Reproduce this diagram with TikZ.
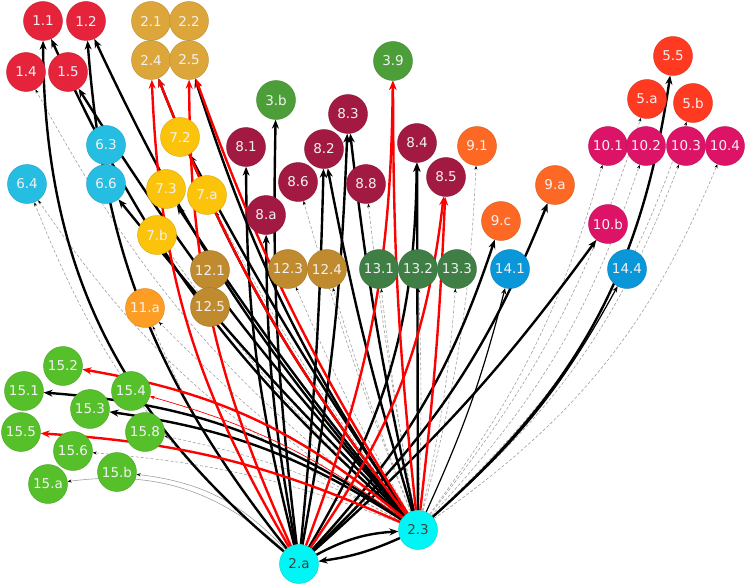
\documentclass[tikz,border=0pt]{standalone}
\usepackage{fontspec}
\setmainfont{DejaVu Sans}
\usetikzlibrary{arrows.meta}
\pgfdeclarelayer{edges}
\pgfsetlayers{edges,main}
\definecolor{sdgone}{HTML}{E5243B}
\definecolor{sdgtwo}{HTML}{DDA63A}
\definecolor{sdgthree}{HTML}{4C9F38}
\definecolor{sdgfive}{HTML}{FF3A21}
\definecolor{sdgsix}{HTML}{26BDE2}
\definecolor{sdgseven}{HTML}{FCC30B}
\definecolor{sdgeight}{HTML}{A21942}
\definecolor{sdgnine}{HTML}{FD6925}
\definecolor{sdgten}{HTML}{DD1367}
\definecolor{sdgeleven}{HTML}{FD9D24}
\definecolor{sdgtwelve}{HTML}{BF8B2E}
\definecolor{sdgthirteen}{HTML}{3F7E44}
\definecolor{sdgfourteen}{HTML}{0A97D9}
\definecolor{sdgfifteen}{HTML}{56C02B}
\definecolor{srccyan}{HTML}{00F5F5}
\definecolor{dashgray}{HTML}{A0A0A0}
\definecolor{arrred}{HTML}{FF0000}
\tikzset{
  sdg/.style={circle, minimum size=39pt, inner sep=0pt, text=white!95!black,
    font=\fontsize{13.5}{13.5}\selectfont, line width=0.4pt},
  gA/.style={sdg, fill=sdgone, draw=sdgone!85!black},
  gB/.style={sdg, fill=sdgtwo, draw=sdgtwo!85!black},
  gC/.style={sdg, fill=sdgthree, draw=sdgthree!85!black},
  gE/.style={sdg, fill=sdgfive, draw=sdgfive!85!black},
  gF/.style={sdg, fill=sdgsix, draw=sdgsix!85!black},
  gG/.style={sdg, fill=sdgseven, draw=sdgseven!85!black},
  gH/.style={sdg, fill=sdgeight, draw=sdgeight!85!black},
  gI/.style={sdg, fill=sdgnine, draw=sdgnine!85!black},
  gJ/.style={sdg, fill=sdgten, draw=sdgten!85!black},
  gK/.style={sdg, fill=sdgeleven, draw=sdgeleven!85!black},
  gL/.style={sdg, fill=sdgtwelve, draw=sdgtwelve!85!black},
  gM/.style={sdg, fill=sdgthirteen, draw=sdgthirteen!85!black},
  gN/.style={sdg, fill=sdgfourteen, draw=sdgfourteen!85!black},
  gO/.style={sdg, fill=sdgfifteen, draw=sdgfifteen!85!black},
  src/.style={sdg, fill=srccyan, draw=srccyan!85!black, text=black!75},
  bk/.style={draw=black, line width=2.4pt, -{Stealth[length=9pt,width=7pt]}},
  rd/.style={draw=arrred, line width=2.4pt, -{Stealth[length=9pt,width=7pt]}},
  rdthin/.style={draw=arrred, line width=0.7pt, -{Stealth[length=5pt,width=4pt]}},
  bkthin/.style={draw=black, line width=1.2pt, -{Stealth[length=6pt,width=5pt]}},
  dsh/.style={draw=dashgray, line width=0.6pt, dash pattern=on 3pt off 2pt,
    -{Stealth[length=4pt,width=3pt,black]}},
  gthin/.style={draw=dashgray, line width=0.6pt, -{Stealth[length=4pt,width=3pt,black]}},
}
\begin{document}
\begin{tikzpicture}[x=1pt,y=-1pt]
\useasboundingbox (0,0) rectangle (746,586);
% goal 1
\node[gA] (n11) at (43,21) {1.1};
\node[gA] (n12) at (86,21) {1.2};
\node[gA] (n14) at (26,72) {1.4};
\node[gA] (n15) at (68,72) {1.5};
% goal 2
\node[gB] (n21) at (151,21) {2.1};
\node[gB] (n22) at (189,21) {2.2};
\node[gB] (n24) at (151,60) {2.4};
\node[gB] (n25) at (189,60) {2.5};
% goal 3
\node[gC] (n3b) at (276,100) {3.b};
\node[gC] (n39) at (393,61) {3.9};
% goal 5
\node[gE] (n55) at (673,56) {5.5};
\node[gE] (n5a) at (647,99) {5.a};
\node[gE] (n5b) at (693,103) {5.b};
% goal 6
\node[gF] (n63) at (106,145) {6.3};
\node[gF] (n66) at (106,184) {6.6};
\node[gF] (n64) at (27,184) {6.4};
% goal 7
\node[gG] (n72) at (180,137) {7.2};
\node[gG] (n73) at (166,189) {7.3};
\node[gG] (n7a) at (207,195) {7.a};
\node[gG] (n7b) at (157,235) {7.b};
% goal 8
\node[gH] (n81) at (246,147) {8.1};
\node[gH] (n8a) at (266,215) {8.a};
\node[gH] (n86) at (298,182) {8.6};
\node[gH] (n82) at (324,149) {8.2};
\node[gH] (n83) at (348,114) {8.3};
\node[gH] (n88) at (366,184) {8.8};
\node[gH] (n84) at (417,143) {8.4};
\node[gH] (n85) at (446,177) {8.5};
% goal 9
\node[gI] (n91) at (477,146) {9.1};
\node[gI] (n9a) at (555,185) {9.a};
\node[gI] (n9c) at (501,221) {9.c};
% goal 10
\node[gJ] (n101) at (608,146) {10.1};
\node[gJ] (n102) at (646,146) {10.2};
\node[gJ] (n103) at (686,146) {10.3};
\node[gJ] (n104) at (725,146) {10.4};
\node[gJ] (n10b) at (608,224) {10.b};
% goal 11
\node[gK] (n11a) at (145,308) {11.a};
% goal 12
\node[gL] (n121) at (210,270) {12.1};
\node[gL] (n125) at (210,307) {12.5};
\node[gL] (n123) at (288,269) {12.3};
\node[gL] (n124) at (327,269) {12.4};
% goal 13
\node[gM] (n131) at (379,269) {13.1};
\node[gM] (n132) at (418,269) {13.2};
\node[gM] (n133) at (457,269) {13.3};
% goal 14
\node[gN] (n141) at (510,269) {14.1};
\node[gN] (n144) at (627,269) {14.4};
% goal 15
\node[gO] (n152) at (63,366) {15.2};
\node[gO] (n151) at (24,391) {15.1};
\node[gO] (n154) at (131,391) {15.4};
\node[gO] (n153) at (90,409) {15.3};
\node[gO] (n155) at (21,432) {15.5};
\node[gO] (n158) at (145,432) {15.8};
\node[gO] (n156) at (73,451) {15.6};
\node[gO] (n15b) at (117,472) {15.b};
\node[gO] (n15a) at (48,484) {15.a};
% sources
\node[src] (n23) at (418,530) {2.3};
\node[src] (n2a) at (299,564) {2.a};

\begin{pgfonlayer}{edges}
% dashed links
\draw[dsh] (n23) to[bend left=12] (n14);
\draw[dsh] (n23) to[bend left=14] (n64);
\draw[dsh] (n2a) to[bend left=14] (n64);
\draw[dsh] (n23) to[bend left=6] (n11a);
\draw[dsh] (n2a) to[bend left=8] (n11a);
\draw[dsh] (n23) to[bend left=4] (n7a);
\draw[dsh] (n23) to[bend left=6] (n7b);
\draw[dsh] (n23) to[bend left=3] (n86);
\draw[dsh] (n23) to[bend left=2] (n88);
\draw[dsh] (n23) to[bend left=3] (n123);
\draw[dsh] (n23) to[bend left=2] (n124);
\draw[dsh] (n23) to[bend left=2] (n131);
\draw[dsh] (n23) to[bend right=2] (n132);
\draw[dsh] (n23) to[bend right=4] (n133);
\draw[dsh] (n23) to[bend right=6] (n91);
\draw[dsh] (n23) to[bend right=10] (n101);
\draw[dsh] (n23) to[bend right=12] (n102);
\draw[dsh] (n23) to[bend right=14] (n103);
\draw[dsh] (n23) to[bend right=16] (n104);
\draw[dsh] (n23) to[bend right=10] (n5a);
\draw[dsh] (n23) to[bend right=14] (n5b);
\draw[dsh] (n23) to[bend right=8] (n156);
\draw[dsh] (n23) to[bend right=8] (n158);
% thin grey
\draw[gthin] (n2a) to[bend right=25] (n15a);
\draw[gthin] (n2a) to[bend right=20] (n15b);
% black links from 2.a
\draw[bk] (n2a) to[bend left=25] (n11);
\draw[bk] (n2a) to[bend left=17] (n12);
\draw[bk] (n2a) to[bend left=4] (n3b);
\draw[bk] (n2a) to[bend left=7] (n81);
\draw[bk] (n2a) to[bend left=5] (n8a);
\draw[bk] (n2a) to[bend right=2] (n82);
\draw[bk] (n2a) to[bend right=4] (n83);
\draw[bk] (n2a) to[bend right=15] (n84);
\draw[bk] (n2a) to[bend right=12] (n9c);
\draw[bk] (n2a) to[bend right=12] (n9a);
\draw[bk] (n2a) to[bend right=6] (n10b);
\draw[bk] (n2a) to[bend left=12] (n23);
% black links from 2.3
\draw[bk] (n23) to[bend left=12] (n11);
\draw[bk] (n23) to[bend left=5] (n15);
\draw[bk] (n23) to[bend left=8] (n12);
\draw[bk] (n23) to[bend left=3] (n66);
\draw[bk] (n23) to[bend left=3] (n73);
\draw[bk] (n23) to[bend left=3] (n72);
\draw[bk] (n23) to[bend left=8] (n24);
\draw[bk] (n23) to[bend left=8] (n25);
\draw[bk] (n23) to[bend left=3] (n82);
\draw[bk] (n23) to[bend left=3] (n83);
\draw[bk] (n23) to[bend left=0] (n84);
\draw[bk] (n23) to[bend right=20] (n55);
\draw[bk] (n23) to[bend right=15] (n151);
\draw[bk] (n23) to[bend right=12] (n153);
\draw[bk] (n23) to[bend left=8] (n2a);
\draw[bkthin] (n23) to[bend right=10] (n144);
\draw[bkthin] (n23) to[bend right=5] (n141);
% red links
\draw[rd] (n2a) to[bend left=14] (n24);
\draw[rd] (n2a) to[bend left=12] (n25);
\draw[rd] (n2a) to[bend right=10] (n39);
\draw[rd] (n2a) to[bend right=14] (n85);
\draw[rd] (n23) to[bend left=8] (n24);
\draw[rd] (n23) to[bend left=6] (n25);
\draw[rd] (n23) to[bend left=3] (n39);
\draw[rd] (n23) to[bend right=2] (n85);
\draw[rd] (n23) to[bend right=15] (n152);
\draw[rd] (n23) to[bend right=10] (n155);
\draw[rdthin] (n23) to[bend right=10] (n154);
\end{pgfonlayer}
\end{tikzpicture}
\end{document}
